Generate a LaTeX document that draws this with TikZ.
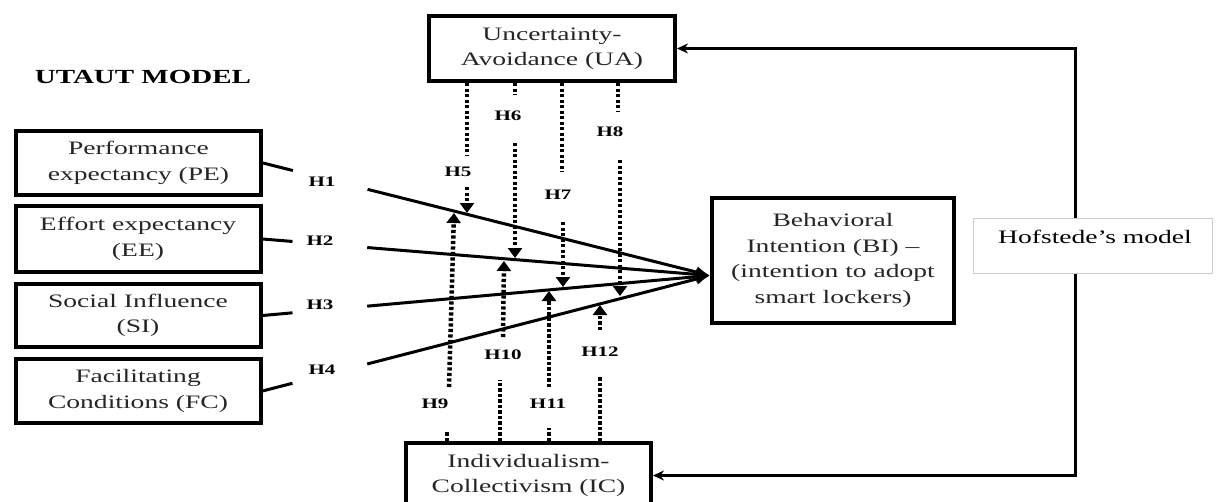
\documentclass[tikz,border=0pt]{standalone}
\usepackage{fontspec}
\setmainfont{Liberation Serif}[FakeStretch=1.45]
\usetikzlibrary{arrows.meta,calc}
\newcommand\dgboxfont{\fontsize{19}{25.5}\selectfont}
\newcommand\dglabfont{\fontsize{14.5}{16}\selectfont\bfseries}
\begin{document}
\begin{tikzpicture}[x=1pt,y=-1pt,
  box/.style={draw,line width=4pt,align=center,font=\dgboxfont,inner sep=0pt,fill=white,text=black!85},
  hl/.style={line width=3pt},
  hlab/.style={font=\dglabfont,inner sep=1pt},
  dl/.style={line width=4.5pt,dash pattern=on 3.2pt off 2.3pt},
  tri/.style={-{Triangle[length=10pt,width=14pt]}},
  conn/.style={line width=3pt,-{Stealth[length=11pt,width=10pt]}}]
\useasboundingbox (0,0) rectangle (1221,501);
\clip (0,0) rectangle (1221,501);

% title
\node[font=\fontsize{20}{24}\selectfont\bfseries] (title) at (143,77) {UTAUT MODEL};

% boxes
\node[box,minimum width=245pt,minimum height=64pt] (PE) at (138.5,163) {Performance\\expectancy (PE)};
\node[box,minimum width=245pt,minimum height=66pt] (EE) at (138,239) {Effort expectancy\\(EE)};
\node[box,minimum width=245pt,minimum height=63pt] (SI) at (138,315.5) {Social Influence\\(SI)};
\node[box,minimum width=245pt,minimum height=64pt] (FC) at (138,391) {Facilitating\\Conditions (FC)};
\node[box,minimum width=246pt,minimum height=65pt] (UA) at (552,48.5) {Uncertainty-\\Avoidance (UA)};
\node[box,minimum width=245pt,minimum height=65pt] (IC) at (528.5,475.5) {Individualism-\\Collectivism (IC)};
\node[box,minimum width=242pt,minimum height=125pt] (BI) at (833,260.5) {Behavioral\\Intention (BI) --\\(intention to adopt\\smart lockers)};

% Hofstede
\coordinate (vx) at (1075,0);
\draw[conn] (1075,245) |- (UA.east);
\draw[conn] (1075,245) |- (IC.east);
\node[draw=gray!40,line width=1pt,fill=white,minimum width=239pt,minimum height=55pt] (hof) at (1092.5,245.5) {};
\node[font=\dgboxfont] (hoft) at (1095,237) {Hofstede's model};

% H1-H4
\coordinate (bi) at ($(BI.west)+(0,15)$);
\foreach \b/\h/\lx/\ly in {PE/H1/322/182, EE/H2/320/241, SI/H3/320/305, FC/H4/322/370}{
  \draw[hl] (\b.east) -- ($(\b.east)!0.067!(bi)$);
  \draw[hl,-{Latex[length=14pt,width=12pt]}] ($(\b.east)!0.234!(bi)$) -- (bi);
  \node[hlab] (l\h) at (\lx,\ly) {\h};
}

% H5-H8 (down from UA)
\coordinate (x5) at (467,0);
\coordinate (x6) at (515,0);
\coordinate (x7) at (562,0);
\coordinate (x8) at (618,0);
\coordinate (a5) at (467,155); \coordinate (b5) at (467,187); \coordinate (t5) at (467,213);
\coordinate (a6) at (515,95);  \coordinate (b6) at (515,143); \coordinate (t6) at (515,258);
\coordinate (a7) at (562,172); \coordinate (b7) at (563,222); \coordinate (t7) at (563,287);
\coordinate (a8) at (618,112); \coordinate (b8) at (620,160); \coordinate (t8) at (620,296);
\draw[dl] (UA.south -| x5) -- (a5); \draw[dl,tri] (b5) -- (t5);
\draw[dl] (UA.south -| x6) -- (a6); \draw[dl,tri] (b6) -- (t6);
\draw[dl] (UA.south -| x7) -- (a7); \draw[dl,tri] (b7) -- (t7);
\draw[dl] (UA.south -| x8) -- (a8); \draw[dl,tri] (b8) -- (t8);
\node[hlab] (lH5) at (458,172) {H5};
\node[hlab] (lH6) at (508,116) {H6};
\node[hlab] (lH7) at (558,195) {H7};
\node[hlab] (lH8) at (610,132) {H8};

% H9-H12 (up from IC)
\coordinate (x9) at (447,0);
\coordinate (x10) at (500,0);
\coordinate (x11) at (549,0);
\coordinate (x12) at (600,0);
\coordinate (a9) at (447,432);  \coordinate (b9) at (449,387);  \coordinate (t9) at (454,213);
\coordinate (a10) at (500,380); \coordinate (b10) at (503,337); \coordinate (t10) at (504,261);
\coordinate (a11) at (549,428); \coordinate (b11) at (549,387); \coordinate (t11) at (549,291);
\coordinate (a12) at (600,377); \coordinate (b12) at (600,330); \coordinate (t12) at (600,305);
\draw[dl] (IC.north -| x9) -- (a9);   \draw[dl,tri] (b9) -- (t9);
\draw[dl] (IC.north -| x10) -- (a10); \draw[dl,tri] (b10) -- (t10);
\draw[dl] (IC.north -| x11) -- (a11); \draw[dl,tri] (b11) -- (t11);
\draw[dl] (IC.north -| x12) -- (a12); \draw[dl,tri] (b12) -- (t12);
\node[hlab] (lH9) at (435,404) {H9};
\node[hlab] (lH10) at (503,355) {H10};
\node[hlab] (lH11) at (548,404) {H11};
\node[hlab] (lH12) at (600,352) {H12};
\end{tikzpicture}
\end{document}
